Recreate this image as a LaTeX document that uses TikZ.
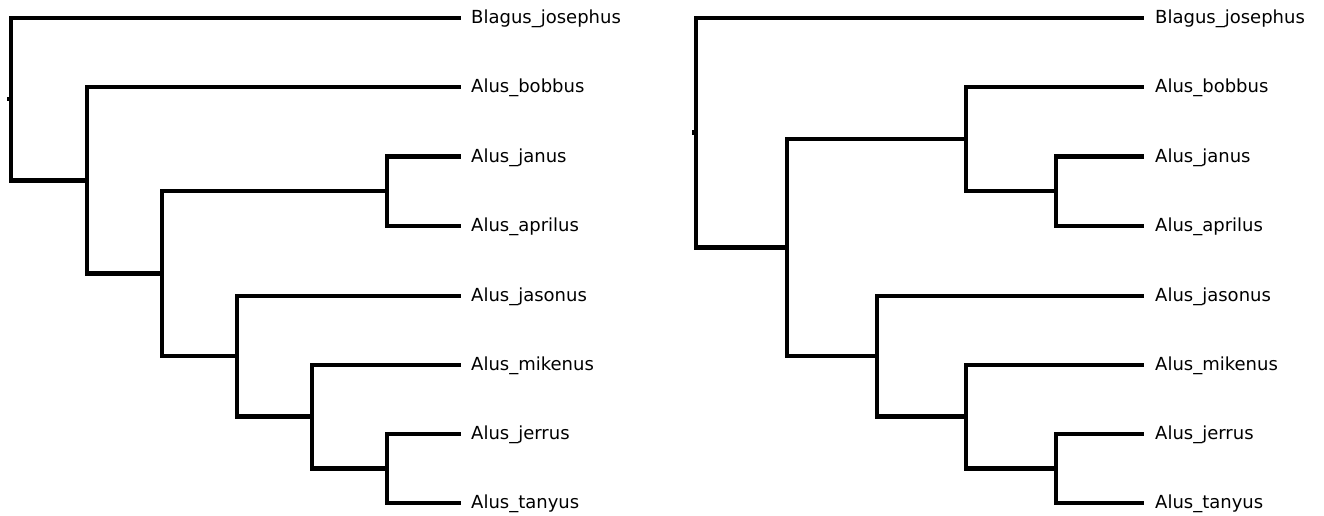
\documentclass[tikz,border=0pt]{standalone}
\usepackage{fontspec}
\setmainfont{DejaVu Sans}
\begin{document}
\begin{tikzpicture}[x=1pt,y=-1pt,
  branch/.style={line width=4.4pt,line join=miter,line cap=butt},
  taxon/.style={anchor=west,inner sep=0pt,font=\fontsize{18}{20}\selectfont}]
\useasboundingbox (0,0) rectangle (1324,515);
% ---------------- left tree ----------------
% leaves
\coordinate (l0) at (461,18);
\coordinate (l1) at (461,87);
\coordinate (l2) at (461,156.5);
\coordinate (l3) at (461,226);
\coordinate (l4) at (461,296);
\coordinate (l5) at (461,365);
\coordinate (l6) at (461,434);
\coordinate (l7) at (461,503);
% internal nodes
\coordinate (lR) at (11,99);
\coordinate (lA) at (87,180.5);
\coordinate (lB) at (162,273.5);
\coordinate (lC) at (387,191.25);
\coordinate (lD) at (237,356);
\coordinate (lE) at (312,416.5);
\coordinate (lF) at (387,468.5);
\coordinate (ltick) at (7,99);
\draw[branch] (ltick) -- (lR);
\draw[branch] (lR) |- (l0);
\draw[branch] (lR) |- (lA);
\draw[branch] (lA) |- (l1);
\draw[branch] (lA) |- (lB);
\draw[branch] (lB) |- (lC);
\draw[branch] (lB) |- (lD);
\draw[branch] (lC) |- (l2);
\draw[branch] (lC) |- (l3);
\draw[branch] (lD) |- (l4);
\draw[branch] (lD) |- (lE);
\draw[branch] (lE) |- (l5);
\draw[branch] (lE) |- (lF);
\draw[branch] (lF) |- (l6);
\draw[branch] (lF) |- (l7);
% labels
\node[taxon] (lt0) at ([xshift=10pt,yshift=-1pt]l0) {Blagus\_josephus};
\node[taxon] (lt1) at ([xshift=10pt,yshift=-1pt]l1) {Alus\_bobbus};
\node[taxon] (lt2) at ([xshift=10pt,yshift=-1pt]l2) {Alus\_janus};
\node[taxon] (lt3) at ([xshift=10pt,yshift=-1pt]l3) {Alus\_aprilus};
\node[taxon] (lt4) at ([xshift=10pt,yshift=-1pt]l4) {Alus\_jasonus};
\node[taxon] (lt5) at ([xshift=10pt,yshift=-1pt]l5) {Alus\_mikenus};
\node[taxon] (lt6) at ([xshift=10pt,yshift=-1pt]l6) {Alus\_jerrus};
\node[taxon] (lt7) at ([xshift=10pt,yshift=-1pt]l7) {Alus\_tanyus};
% ---------------- right tree ----------------
\coordinate (r0) at (1144,18);
\coordinate (r1) at (1144,87);
\coordinate (r2) at (1144,156.5);
\coordinate (r3) at (1144,226);
\coordinate (r4) at (1144,296);
\coordinate (r5) at (1144,365);
\coordinate (r6) at (1144,434);
\coordinate (r7) at (1144,503);
\coordinate (rR) at (696,132.5);
\coordinate (rG) at (787,247.5);
\coordinate (rH) at (966,139);
\coordinate (rJ) at (1056,191.25);
\coordinate (rI) at (877,356);
\coordinate (rK) at (966,416.5);
\coordinate (rL) at (1056,468.5);
\coordinate (rtick) at (692,132.5);
\draw[branch] (rtick) -- (rR);
\draw[branch] (rR) |- (r0);
\draw[branch] (rR) |- (rG);
\draw[branch] (rG) |- (rH);
\draw[branch] (rG) |- (rI);
\draw[branch] (rH) |- (r1);
\draw[branch] (rH) |- (rJ);
\draw[branch] (rJ) |- (r2);
\draw[branch] (rJ) |- (r3);
\draw[branch] (rI) |- (r4);
\draw[branch] (rI) |- (rK);
\draw[branch] (rK) |- (r5);
\draw[branch] (rK) |- (rL);
\draw[branch] (rL) |- (r6);
\draw[branch] (rL) |- (r7);
\node[taxon] (rt0) at ([xshift=11pt,yshift=-1pt]r0) {Blagus\_josephus};
\node[taxon] (rt1) at ([xshift=11pt,yshift=-1pt]r1) {Alus\_bobbus};
\node[taxon] (rt2) at ([xshift=11pt,yshift=-1pt]r2) {Alus\_janus};
\node[taxon] (rt3) at ([xshift=11pt,yshift=-1pt]r3) {Alus\_aprilus};
\node[taxon] (rt4) at ([xshift=11pt,yshift=-1pt]r4) {Alus\_jasonus};
\node[taxon] (rt5) at ([xshift=11pt,yshift=-1pt]r5) {Alus\_mikenus};
\node[taxon] (rt6) at ([xshift=11pt,yshift=-1pt]r6) {Alus\_jerrus};
\node[taxon] (rt7) at ([xshift=11pt,yshift=-1pt]r7) {Alus\_tanyus};
\end{tikzpicture}
\end{document}
